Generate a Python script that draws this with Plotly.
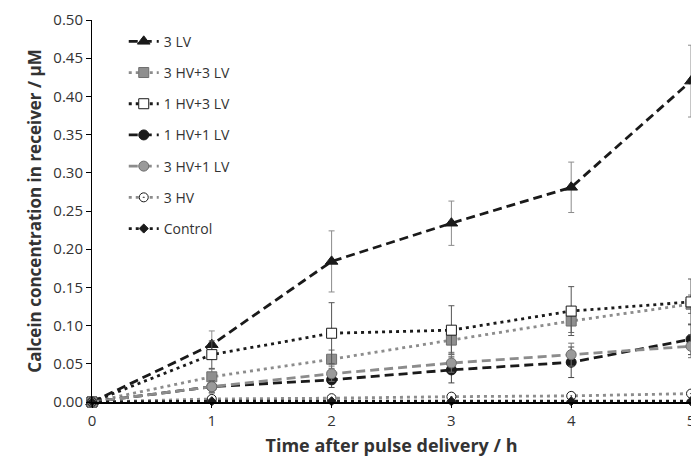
import plotly.graph_objects as go

time_h = [0, 1, 2, 3, 4, 5]

series_names = ["3 LV", "3 HV+3 LV", "1 HV+3 LV", "1 HV+1 LV", "3 HV+1 LV", "3 HV", "Control"]

lv3 = [0.0, 0.075, 0.184, 0.234, 0.281, 0.420]
lv3_err = [0.0, 0.018, 0.040, 0.029, 0.033, 0.047]

hv3_lv3 = [0.0, 0.033, 0.056, 0.081, 0.106, 0.128]
hv3_lv3_err = [0.0, 0.010, 0.012, 0.016, 0.015, 0.012]

hv1_lv3 = [0.0, 0.062, 0.090, 0.094, 0.119, 0.131]
hv1_lv3_err = [0.0, 0.018, 0.040, 0.032, 0.032, 0.030]

hv1_lv1 = [0.0, 0.020, 0.029, 0.042, 0.052, 0.082]
hv1_lv1_err = [0.0, 0.008, 0.010, 0.017, 0.020, 0.020]

hv3_lv1 = [0.0, 0.020, 0.037, 0.051, 0.062, 0.073]
hv3_lv1_err = [0.0, 0.008, 0.010, 0.012, 0.015, 0.015]

hv3 = [0.0, 0.004, 0.005, 0.007, 0.008, 0.011]
hv3_err = [0.0, 0.003, 0.003, 0.004, 0.004, 0.004]

control = [0.0, 0.001, 0.001, 0.001, 0.001, 0.001]
control_err = [0.0, 0.001, 0.001, 0.001, 0.001, 0.001]

y_ticks = [0.0, 0.05, 0.10, 0.15, 0.20, 0.25, 0.30, 0.35, 0.40, 0.45, 0.50]

BLACK = "#1a1a1a"
GRAY = "#8c8c8c"
DGRAY = "#6e6e6e"
DASH = "9px,5px"
DOT = "3px,4px"

styles = [
    (lv3, lv3_err, BLACK, DASH, "triangle-up", BLACK, BLACK, 11, GRAY),
    (hv3_lv3, hv3_lv3_err, GRAY, DOT, "square", "#8f8f8f", DGRAY, 10, DGRAY),
    (hv1_lv3, hv1_lv3_err, BLACK, DOT, "square", "white", BLACK, 10, "#555555"),
    (hv1_lv1, hv1_lv1_err, BLACK, DASH, "circle", BLACK, BLACK, 10, "#444444"),
    (hv3_lv1, hv3_lv1_err, GRAY, DASH, "circle", "#9a9a9a", DGRAY, 10, DGRAY),
    (hv3, hv3_err, GRAY, DOT, "circle-dot", "white", BLACK, 9, DGRAY),
    (control, control_err, BLACK, DOT, "diamond", BLACK, BLACK, 7, BLACK),
]

fig = go.Figure()
for i, (name, st) in enumerate(zip(series_names, styles)):
    vals, errs, lc, dash, sym, fill, mline, msize, ecol = st
    fig.add_trace(go.Scatter(
        x=time_h, y=vals, name=name, mode="lines+markers",
        legendgroup=f"g{i}",
        line=dict(color=lc, width=2.8, dash=dash),
        marker=dict(symbol=sym, size=msize, color=fill, line=dict(color=mline, width=1)),
        error_y=dict(type="data", array=errs, visible=True, color=ecol, thickness=1, width=3),
        cliponaxis=False,
    ))

fig.update_layout(
    width=691, height=458,
    margin=dict(l=92, r=0, t=20, b=56),
    paper_bgcolor="white", plot_bgcolor="white",
    font=dict(family="Open Sans, Noto Sans, sans-serif", size=14, color="#333333"),
    legend=dict(
        x=0.053, y=0.985, xanchor="left", yanchor="top",
        traceorder="grouped", tracegroupgap=10,
        itemwidth=30,
        font=dict(size=14, color="#333333"),
        bgcolor="rgba(0,0,0,0)",
    ),
    xaxis=dict(
        range=[0, 5], tickvals=time_h, ticktext=[str(t) for t in time_h],
        showline=True, linecolor="black", linewidth=1.5,
        ticks="outside", ticklen=4, tickcolor="black",
        tickfont=dict(size=15), ticklabeloverflow="allow", automargin=False,
        showgrid=False, zeroline=False,
        title=dict(text="<b>Time after pulse delivery / h</b>", font=dict(size=18, color="#333333"), standoff=11),
    ),
    yaxis=dict(
        range=[0, 0.5], tickvals=y_ticks, ticktext=[f"{v:.2f}" for v in y_ticks],
        showline=True, linecolor="black", linewidth=1,
        ticks="outside", ticklen=5, tickcolor="black",
        tickfont=dict(size=15), automargin=False,
        showgrid=False, zeroline=False,
        title=dict(text="<b>Calcein concentration in receiver / µM</b>", font=dict(size=17, color="#333333"), standoff=7),
    ),
)

fig.write_html("out.html")
